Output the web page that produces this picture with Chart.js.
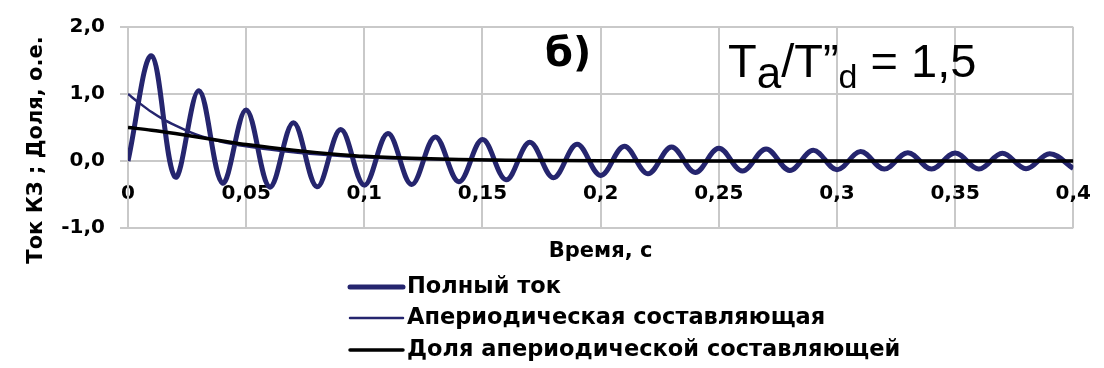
<!DOCTYPE html>
<html lang="ru">
<head>
<meta charset="utf-8">
<title>Ток КЗ</title>
<script src="https://cdn.jsdelivr.net/npm/chart.js@4.4.1/dist/chart.umd.min.js"></script>
<style>
  html, body { margin: 0; padding: 0; background: #fff; }
  #grafTok { display: block; }
</style>
</head>
<body>
<canvas id="grafTok" width="1104" height="368"></canvas>
<script>
// полный ток, о.е.: экстремумы через каждые 0,01 с (полпериода 50 Гц)
const stepT = 0.01;
const fullCurrent = [
    0, 1.57, -0.24, 1.05, -0.33, 0.76, -0.39, 0.57, -0.385, 0.47,
    -0.36, 0.41, -0.35, 0.36, -0.31, 0.32, -0.28, 0.28, -0.25, 0.25,
    -0.215, 0.22, -0.19, 0.21, -0.17, 0.19, -0.15, 0.18, -0.14, 0.16,
    -0.13, 0.14, -0.12, 0.125, -0.12, 0.12, -0.12, 0.115, -0.115, 0.11,
    -0.11
];
// апериодическая составляющая
const aperTime = [0, 0.005, 0.01, 0.015, 0.02, 0.025, 0.03, 0.035, 0.04, 0.05, 0.06, 0.07, 0.08, 0.09, 0.1, 0.12, 0.14, 0.16, 0.2, 0.25, 0.3, 0.35, 0.4];
const aperValues = [1.0, 0.86, 0.73, 0.62, 0.53, 0.45, 0.38, 0.33, 0.285, 0.22, 0.17, 0.13, 0.10, 0.075, 0.055, 0.03, 0.017, 0.01, 0.003, 0.001, 0, 0, 0];
// доля апериодической составляющей
const shareTime = [0, 0.01, 0.02, 0.03, 0.04, 0.05, 0.06, 0.07, 0.08, 0.09, 0.1, 0.12, 0.14, 0.16, 0.2, 0.25, 0.3, 0.35, 0.4];
const shareValues = [0.50, 0.46, 0.41, 0.355, 0.30, 0.245, 0.20, 0.16, 0.125, 0.095, 0.07, 0.04, 0.022, 0.012, 0.003, 0.001, 0, 0, 0];

const xTicks = [0, 0.05, 0.1, 0.15, 0.2, 0.25, 0.3, 0.35, 0.4];
const yTicks = [-1, 0, 1, 2];

const corGrade = '#c9c9c9';
const corAzul = '#25256e';
const fonte = 'DejaVu Sans';

function pontos(tempos, valores) {
    return valores.map(function (v, i) { return { x: tempos[i], y: v }; });
}

// подписи: ось Y, "б)", Ta/T"d, легенда
const podpisi = {
    id: 'podpisi',
    afterDraw: function (chart) {
        const ctx = chart.ctx;
        ctx.save();
        ctx.fillStyle = '#000';

        ctx.save();
        ctx.translate(37, 150);
        ctx.rotate(-Math.PI / 2);
        ctx.font = 'bold 21px "' + fonte + '"';
        ctx.textAlign = 'center';
        ctx.textBaseline = 'middle';
        ctx.fillText('Ток КЗ ; Доля, о.е.', 0, 0);
        ctx.restore();

        ctx.textAlign = 'left';
        ctx.textBaseline = 'alphabetic';
        ctx.font = 'bold 40px "' + fonte + '"';
        ctx.fillText('б)', 545, 66);

        // T_a / T"_d = 1,5
        const partes = [
            ['T', 47, 0], ['a', 44, 11], ['/', 47, 0], ['T', 47, 0],
            ['\u201D', 47, 0], ['d', 34, 11], [' = 1,5', 47, 0]
        ];
        let x = 728;
        partes.forEach(function (p) {
            ctx.font = p[1] + 'px "Liberation Sans"';
            ctx.fillText(p[0], x, 77 + p[2]);
            x += ctx.measureText(p[0]).width;
        });

        // легенда
        const linhas = [287, 318, 350];
        chart.data.datasets.forEach(function (ds, i) {
            const y = linhas[i];
            ctx.strokeStyle = ds.borderColor;
            ctx.lineWidth = ds.borderWidth;
            ctx.lineCap = 'round';
            ctx.beginPath();
            ctx.moveTo(350, y);
            ctx.lineTo(403, y);
            ctx.stroke();
            ctx.font = 'bold 22.5px "' + fonte + '"';
            ctx.textBaseline = 'middle';
            ctx.fillText(ds.label, 407, y);
        });
        ctx.restore();
    }
};

let graf = new Chart(document.getElementById('grafTok').getContext('2d'), {
    type: 'line',
    data: {
        datasets: [{
            label: 'Полный ток',
            data: fullCurrent.map(function (v, i) { return { x: +(i * stepT).toFixed(2), y: v }; }),
            borderColor: corAzul,
            borderWidth: 5,
            cubicInterpolationMode: 'default',
            tension: 0.36,
            order: 3
        }, {
            label: 'Апериодическая составляющая',
            data: pontos(aperTime, aperValues),
            borderColor: corAzul,
            borderWidth: 2.5,
            cubicInterpolationMode: 'monotone',
            order: 2
        }, {
            label: 'Доля апериодической составляющей',
            data: pontos(shareTime, shareValues),
            borderColor: '#000000',
            borderWidth: 3.5,
            cubicInterpolationMode: 'monotone',
            order: 1
        }]
    },
    options: {
        responsive: false,
        animation: false,
        devicePixelRatio: 1,
        elements: { point: { radius: 0 }, line: { fill: false, capBezierPoints: true } },
        layout: { padding: { top: 22, right: 23, bottom: 140, left: 0 } },
        plugins: { legend: { display: false }, tooltip: { enabled: false } },
        scales: {
            x: {
                type: 'linear',
                min: 0,
                max: 0.4,
                position: { y: 0 },
                afterBuildTicks: function (s) { s.ticks = xTicks.map(function (v) { return { value: v }; }); },
                ticks: {
                    autoSkip: false,
                    maxRotation: 0,
                    padding: 13,
                    color: '#000',
                    font: { family: fonte, size: 20, weight: 'bold' },
                    callback: function (v) { return String(v).replace('.', ','); }
                },
                grid: { color: corGrade, lineWidth: 2, tickLength: 8, tickColor: corGrade },
                border: { color: corGrade, width: 2 },
                title: {
                    display: true,
                    text: 'Время, с',
                    color: '#000',
                    font: { family: fonte, size: 21, weight: 'bold' },
                    padding: { top: 30, bottom: 0 }
                }
            },
            y: {
                min: -1,
                max: 2,
                afterBuildTicks: function (s) { s.ticks = yTicks.map(function (v) { return { value: v }; }); },
                afterFit: function (s) { s.width = 128; },
                ticks: {
                    padding: 15,
                    color: '#000',
                    font: { family: fonte, size: 20, weight: 'bold' },
                    callback: function (v) { return v.toFixed(1).replace('.', ','); }
                },
                grid: { color: corGrade, lineWidth: 2, tickLength: 8, tickColor: corGrade },
                border: { color: corGrade, width: 2 }
            }
        }
    },
    plugins: [podpisi]
});
</script>
</body>
</html>
